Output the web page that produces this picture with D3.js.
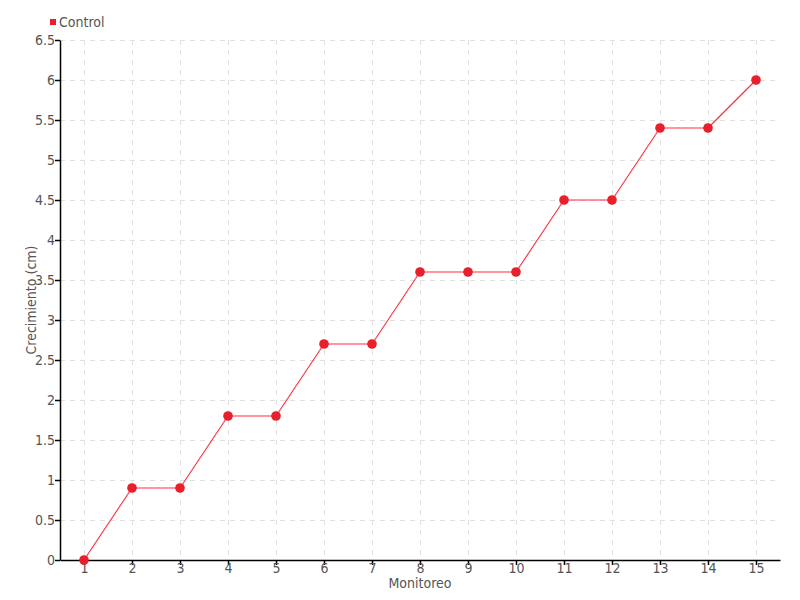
<!DOCTYPE html>
<html><head><meta charset="utf-8">
<script src="https://cdn.jsdelivr.net/npm/d3@7"></script>
<style>
body{margin:0;background:#fff;}
text{font-family:"DejaVu Sans Condensed","DejaVu Sans",sans-serif;font-stretch:condensed;}
</style></head>
<body>
<svg id="chart" width="800" height="600"></svg>
<script>
const categories = [1,2,3,4,5,6,7,8,9,10,11,12,13,14,15];
const controlValues = [0,0.9,0.9,1.8,1.8,2.7,2.7,3.6,3.6,3.6,4.5,4.5,5.4,5.4,6];
const yTicks = [0,0.5,1,1.5,2,2.5,3,3.5,4,4.5,5,5.5,6,6.5];
const seriesName = "Control";
const xTitle = "Monitoreo";
const yTitle = "Crecimiento (cm)";

const svg = d3.select("#chart");
const m = {l:60, r:20, t:40, b:40};
const W = 800, H = 600;
const x = d3.scaleLinear().domain([0.5,15.5]).range([m.l, W-m.r]);
const y = d3.scaleLinear().domain([0,6.5]).range([H-m.b, m.t]);
const red = "#e8202c";

// grid
const g = svg.append("g");
g.selectAll(".hg").data(yTicks.filter(d=>d>0)).enter().append("line")
  .attr("x1", m.l).attr("x2", W-m.r).attr("y1", d=>y(d)+0.5).attr("y2", d=>y(d)+0.5)
  .attr("stroke","#e0e0e0").attr("stroke-dasharray","5,5");
g.selectAll(".vg").data(categories).enter().append("line")
  .attr("x1", d=>x(d)+0.5).attr("x2", d=>x(d)+0.5).attr("y1", m.t).attr("y2", H-m.b)
  .attr("stroke","#e0e0e0").attr("stroke-dasharray","5,5");

// axes
const xAxis = svg.append("g").attr("transform",`translate(0,${H-m.b})`)
  .call(d3.axisBottom(x).tickValues(categories).tickSize(5).tickSizeOuter(0).tickFormat(d3.format("d")));
const yAxis = svg.append("g").attr("transform",`translate(${m.l},0)`)
  .call(d3.axisLeft(y).tickValues(yTicks).tickSize(5).tickSizeOuter(0).tickFormat(d=>String(d)));
[xAxis,yAxis].forEach(a=>{
  a.select(".domain").attr("stroke","#000").attr("stroke-width",1.5);
  a.selectAll(".tick line").attr("stroke","#000").attr("stroke-width",1.5);
  a.selectAll(".tick text").attr("fill","#555").style("font-size","14px");
});
xAxis.selectAll(".tick text").attr("y",3);
yAxis.selectAll(".tick text").attr("x",-5);

// line segments
const pts = categories.map((c,i)=>({c, v:controlValues[i]}));
const segs = d3.pairs(pts);
svg.selectAll(".seg").data(segs).enter().append("line")
  .attr("x1",d=>x(d[0].c)).attr("y1",d=>y(d[0].v))
  .attr("x2",d=>x(d[1].c)).attr("y2",d=>y(d[1].v))
  .attr("stroke","#ff2a3c").attr("stroke-width",1.1);
svg.selectAll(".pt").data(pts).enter().append("circle")
  .attr("cx",d=>x(d.c)).attr("cy",d=>y(d.v)).attr("r",4.8).attr("fill",red);

// titles
svg.append("text").attr("x",(m.l+W-m.r)/2).attr("y",588).attr("text-anchor","middle")
  .attr("fill","#555").style("font-size","14px").text(xTitle);
svg.append("text").attr("transform",`translate(36,${(m.t+H-m.b)/2}) rotate(-90)`)
  .attr("text-anchor","middle").attr("fill","#555").style("font-size","14px").text(yTitle);

// legend
svg.append("rect").attr("x",50).attr("y",19).attr("width",6).attr("height",6).attr("fill",red);
svg.append("text").attr("x",59).attr("y",27).attr("fill","#555").style("font-size","14px").text(seriesName);
</script>
</body></html>
